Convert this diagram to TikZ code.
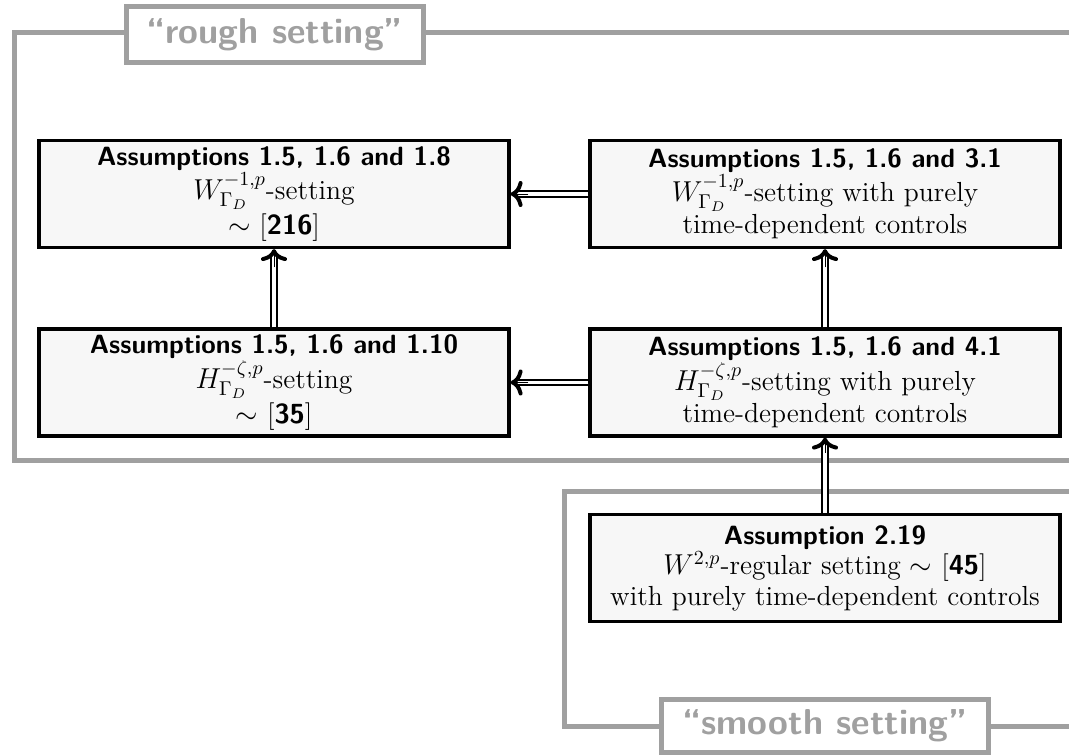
\documentclass[tikz,border=0pt]{standalone}
\usetikzlibrary{arrows.meta}
\definecolor{framegray}{RGB}{160,160,160}
\definecolor{boxfill}{RGB}{247,247,247}
\newcommand{\ttl}[1]{{\fontsize{13.2}{15}\selectfont\sffamily\bfseries #1}}
\newcommand{\rf}[1]{[\textsf{\textbf{#1}}]}
\begin{document}
\begin{tikzpicture}[x=0.5pt,y=-0.5pt,
  box/.style={draw=black, line width=1.6pt, fill=boxfill, minimum width=235pt, minimum height=53.5pt, align=center, inner sep=0pt, font=\fontsize{13.8}{15.2}\selectfont},
  frame/.style={draw=framegray, line width=2.5pt},
  lbl/.style={draw=framegray, line width=2.4pt, fill=white, text=framegray, font=\fontsize{18}{20}\selectfont\sffamily\bfseries, inner sep=0pt},
  shaft/.style={double, line width=1pt, double distance=1.6pt, shorten >=3pt},
  tip/.style={draw, line width=0.4pt, shorten <=30pt, -{Computer Modern Rightarrow[width=13pt,length=6pt,line width=2pt]}}]
\useasboundingbox (0,0) rectangle (1069,754);
% frames
\draw[frame] (1069,32.5) -- (14.5,32.5) -- (14.5,460) -- (1069,460);
\draw[frame] (1069,491) -- (564.5,491) -- (564.5,726.5) -- (1069,726.5);
\node[lbl, minimum width=148.5pt, minimum height=28pt] (rough) at (274.7,34.7) {``rough setting''};
\node[lbl, minimum width=163.3pt, minimum height=26.8pt] (smooth) at (825,726) {``smooth setting''};
% boxes
\node[box] (A) at (274,194) {\ttl{Assumptions 1.5, 1.6 and 1.8}\\ $W^{-1,p}_{\Gamma_D}$-setting\\[1pt] $\sim$ \rf{216}};
\node[box] (B) at (825,194) {\ttl{Assumptions 1.5, 1.6 and 3.1}\\ $W^{-1,p}_{\Gamma_D}$-setting with purely\\[1pt] time-dependent controls};
\node[box] (C) at (274,382.5) {\ttl{Assumptions 1.5, 1.6 and 1.10}\\ $H^{-\zeta,p}_{\Gamma_D}$-setting\\[1pt] $\sim$ \rf{35}};
\node[box] (D) at (825,382.5) {\ttl{Assumptions 1.5, 1.6 and 4.1}\\ $H^{-\zeta,p}_{\Gamma_D}$-setting with purely\\[1pt] time-dependent controls};
\node[box] (E) at (825,568) {\ttl{Assumption 2.19}\\ $W^{2,p}$-regular setting $\sim$ \rf{45}\\ with purely time-dependent controls};
% arrows
\foreach \s/\t in {B.west/A.east, C.north/A.south, D.north/B.south, D.west/C.east, E.north/D.south} {
  \draw[shaft] (\s) -- (\t);
  \draw[tip] (\s) -- (\t);
}
\end{tikzpicture}
\end{document}
